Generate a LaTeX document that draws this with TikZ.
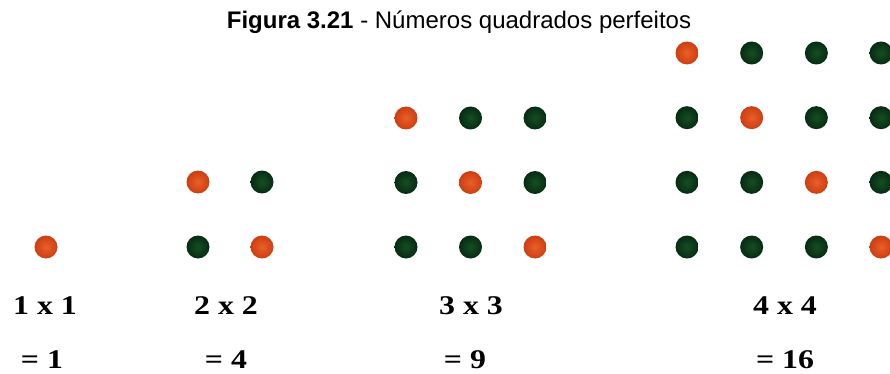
\documentclass[tikz,border=0pt]{standalone}
\usepackage{fontspec}
\usepackage{graphicx}
\setmainfont{Liberation Serif}
\newfontfamily\arialfont{Liberation Sans}
\definecolor{rA}{RGB}{232,96,42}
\definecolor{rB}{RGB}{208,66,20}
\definecolor{rC}{RGB}{140,36,8}
\definecolor{gA}{RGB}{22,78,36}
\definecolor{gB}{RGB}{8,48,20}
\definecolor{gC}{RGB}{0,8,2}
\pgfdeclareradialshading{dotred}{\pgfpoint{0bp}{0bp}}{color(0bp)=(rA); color(22bp)=(rB); color(40bp)=(rB!70!rC); color(50bp)=(rC)}
\pgfdeclareradialshading{dotgreen}{\pgfpoint{0bp}{0bp}}{color(0bp)=(gA); color(22bp)=(gB); color(40bp)=(gB!50!gC); color(50bp)=(gC)}
\tikzset{
  dotbase/.style={circle, minimum size=23pt, inner sep=0pt},
  reddot/.style={dotbase, shading=dotred},
  greendot/.style={dotbase, shading=dotgreen},
  lbl/.style={anchor=base, inner sep=0pt, font=\fontsize{27}{30}\selectfont\bfseries},
  ttl/.style={anchor=base, inner sep=0pt, font=\arialfont\fontsize{24}{28}\selectfont}
}
\begin{document}
\begin{tikzpicture}[x=1pt,y=-1pt]
\useasboundingbox (0,0) rectangle (890,374);
\clip (0,0) rectangle (890,374);
\node[ttl] (title) at (459,29) {\textbf{Figura 3.21} - Números quadrados perfeitos};
% 1x1
\node[reddot] (a-1-1) at (46,247) {};
% 2x2
\foreach \i in {1,2}{\foreach \j in {1,2}{
  \ifnum\i=\j \def\st{reddot}\else\def\st{greendot}\fi
  \node[\st] (b-\i-\j) at ({198+(\j-1)*64},{182+(\i-1)*65}) {};
}}
% 3x3
\foreach \i in {1,2,3}{\foreach \j in {1,2,3}{
  \ifnum\i=\j \def\st{reddot}\else\def\st{greendot}\fi
  \node[\st] (c-\i-\j) at ({406+(\j-1)*64.5},{118+(\i-1)*64.5}) {};
}}
% 4x4
\foreach \i in {1,2,3,4}{\foreach \j in {1,2,3,4}{
  \ifnum\i=\j \def\st{reddot}\else\def\st{greendot}\fi
  \node[\st] (d-\i-\j) at ({687+(\j-1)*64.67},{53+(\i-1)*64.67}) {};
}}
% labels
\node[lbl] (l1) at (45,314) {\scalebox{1.18}[1]{1 x 1}};
\node[lbl] (l2) at (226,314) {\scalebox{1.18}[1]{2 x 2}};
\node[lbl] (l3) at (471,314) {\scalebox{1.18}[1]{3 x 3}};
\node[lbl] (l4) at (785,314) {\scalebox{1.18}[1]{4 x 4}};
\node[lbl] (r1) at (42,368) {\scalebox{1.18}[1]{= 1}};
\node[lbl] (r2) at (226,368) {\scalebox{1.18}[1]{= 4}};
\node[lbl] (r3) at (465,368) {\scalebox{1.18}[1]{= 9}};
\node[lbl] (r4) at (785,368) {\scalebox{1.18}[1]{= 16}};
\end{tikzpicture}
\end{document}
